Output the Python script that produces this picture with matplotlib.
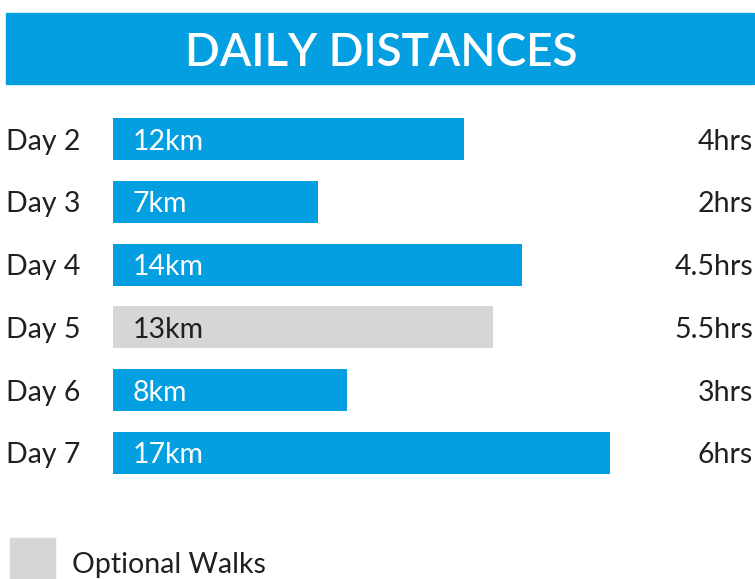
import matplotlib.pyplot as plt
import matplotlib.transforms as mtransforms
from matplotlib.patches import Rectangle

plt.rcParams['font.family'] = ['Lato', 'DejaVu Sans']

# данные
days = ['Day 2', 'Day 3', 'Day 4', 'Day 5', 'Day 6', 'Day 7']
distances = [12, 7, 14, 13, 8, 17]
durations = ['4hrs', '2hrs', '4.5hrs', '5.5hrs', '3hrs', '6hrs']
optional = [False, False, False, True, False, False]

blue = '#039FE1'
grey = '#D6D6D6'
dark = '#231F20'

W, H = 755, 579
fig = plt.figure(figsize=(W / 100, H / 100), dpi=100)
fig.patch.set_facecolor('white')

# синяя плашка с заголовком
fig.patches.append(Rectangle((6 / W, 1 - 84 / H), 748 / W, 71 / H,
                             transform=fig.transFigure, color=blue, zorder=0))
fig.text(381 / W, 1 - 49 / H, 'DAILY DISTANCES', color='white', fontsize=33,
         fontweight='semibold', ha='center', va='center_baseline')

ax = fig.add_axes([113 / W, 1 - 474 / H, (610 - 113) / W, (474 - 118) / H])
ax.set_xlim(0, 17)
ax.set_ylim(len(days) - 1 + 0.335, -0.335)
ax.axis('off')

colors = [grey if o else blue for o in optional]
ax.barh(range(len(days)), distances, height=0.67, color=colors)

# подписи слева/справа по фигуре, по y - в данных
tr = mtransforms.blended_transform_factory(fig.transFigure, ax.transData)
for i, (d, km, hrs, o) in enumerate(zip(days, distances, durations, optional)):
    fig.text(6 / W, i, d, transform=tr, fontsize=20.5, color=dark,
             va='center_baseline', ha='left')
    fig.text(753 / W, i, hrs, transform=tr, fontsize=20.5, color=dark,
             va='center_baseline', ha='right')
    ax.text(0.67, i, f'{km}km', fontsize=20.5, color=dark if o else 'white',
            va='center_baseline', ha='left')

# легенда
fig.patches.append(Rectangle((10 / W, 0), 45 / W, 41 / H,
                             transform=fig.transFigure, color=grey))
fig.text(72 / W, 1 - 562 / H, 'Optional Walks', fontsize=20.5, color=dark,
         va='center_baseline', ha='left')

fig.savefig('out.png', dpi=100)
